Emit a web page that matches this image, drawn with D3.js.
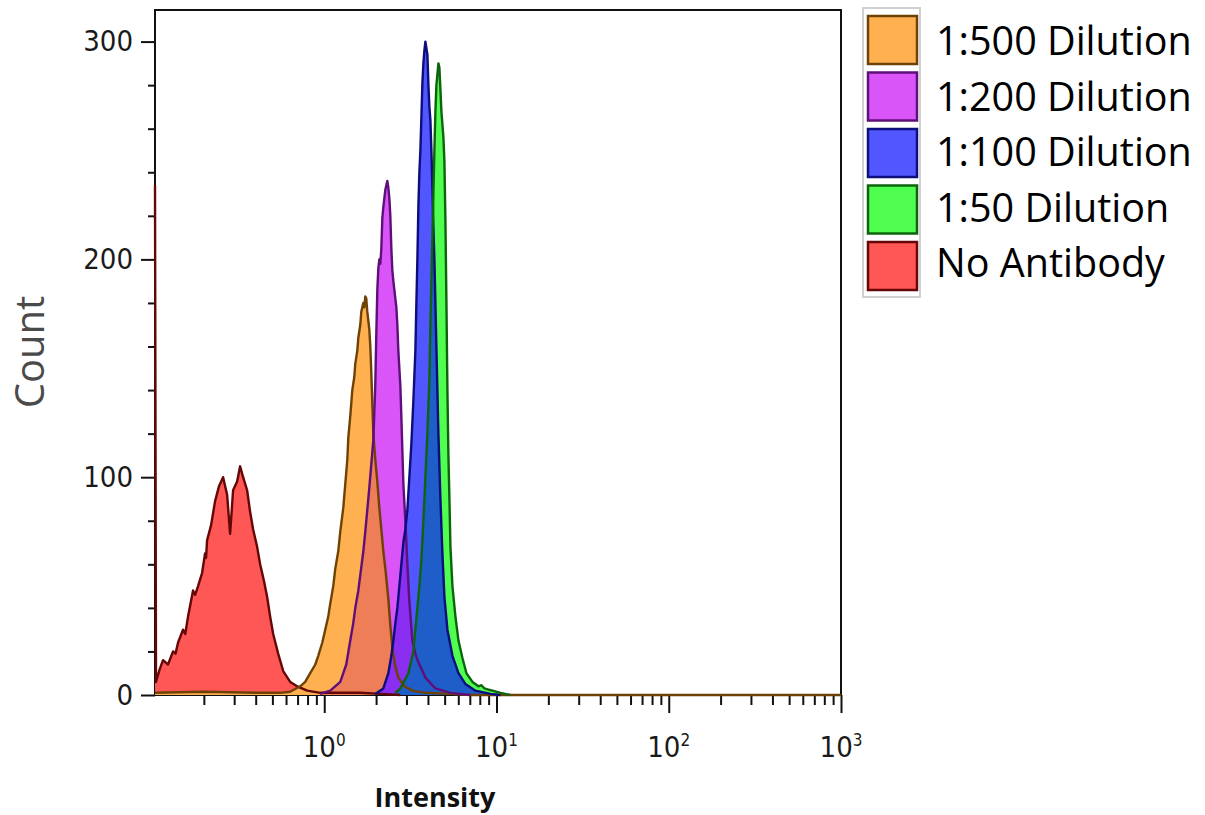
<!DOCTYPE html>
<html>
<head>
<meta charset="utf-8">
<script src="https://cdn.jsdelivr.net/npm/d3@7"></script>
<style>
  body { margin: 0; background: #fff; }
</style>
</head>
<body>
<svg id="chart" width="1205" height="815"></svg>
<script>
// legend order, top to bottom
const seriesNames = ["1:500 Dilution", "1:200 Dilution", "1:100 Dilution", "1:50 Dilution", "No Antibody"]
const xTickValues = [1, 10, 100, 1000]
const xTickExponents = ["0", "1", "2", "3"]
const yTickValues = [0, 100, 200, 300]

// [intensity, count]
const noAntibody = [
  [0.1041, 234], [0.1055, 6], [0.1110, 12], [0.1159, 16], [0.1239, 14], [0.1325, 20], [0.1370, 19],
  [0.1416, 24], [0.1514, 30], [0.1560, 28], [0.1619, 36], [0.1731, 48], [0.1780, 46],
  [0.1851, 50], [0.1953, 56], [0.2033, 65], [0.2060, 63],
  [0.2088, 71], [0.2203, 78], [0.2324, 89], [0.2452, 96], [0.2587, 100], [0.2729, 92],
  [0.2841, 74], [0.2957, 94], [0.312, 98], [0.3248, 105], [0.3381, 100], [0.3567, 94],
  [0.3714, 84], [0.3866, 76], [0.4078, 68], [0.4244, 60], [0.4478, 52], [0.4662, 45],
  [0.4853, 36], [0.5053, 28], [0.5403, 19], [0.5777, 11], [0.6343, 6], [0.6966, 4],
  [0.7962, 2], [0.948, 1], [1.239, 1], [1.619, 1], [2.117, 0.5], [2.766, 0]
]
const dil500 = [
  [0.1041, 1], [0.2, 1.5], [0.4, 1], [0.555, 1], [0.634, 1.5], [0.725, 4], [0.775, 6],
  [0.829, 10], [0.887, 14], [0.923, 18], [0.9736, 24], [1.0135, 30], [1.055, 36],
  [1.084, 42], [1.128, 50], [1.159, 58], [1.206, 66], [1.239, 75], [1.29, 86], [1.325, 97],
  [1.361, 108], [1.379, 118], [1.416, 128], [1.455, 140], [1.494, 146], [1.514, 152],
  [1.555, 158], [1.577, 164], [1.619, 170], [1.641, 176], [1.686, 180], [1.708, 178],
  [1.731, 183], [1.754, 182], [1.778, 176], [1.802, 172], [1.826, 168], [1.851, 160],
  [1.876, 148], [1.901, 134], [1.927, 120], [1.979, 108], [2.033, 98], [2.088, 86],
  [2.145, 76], [2.203, 66], [2.263, 58], [2.356, 44], [2.419, 32], [2.485, 22],
  [2.587, 13], [2.693, 8], [2.918, 4], [3.248, 2], [3.866, 1], [5.403, 0.5], [7.063, 0],
  [1000, 0]
]
const dil200 = [
  [0.948, 0.5], [1.084, 2], [1.239, 6], [1.342, 14], [1.416, 25], [1.474, 33], [1.514, 40],
  [1.577, 48], [1.619, 55], [1.686, 66], [1.731, 75], [1.778, 85], [1.826, 95], [1.876, 106],
  [1.927, 117], [1.953, 130], [1.979, 143], [2.006, 166], [2.033, 186], [2.061, 196],
  [2.088, 200], [2.117, 198], [2.145, 205], [2.174, 219], [2.203, 224], [2.263, 232],
  [2.293, 234], [2.324, 236], [2.356, 233], [2.388, 228], [2.419, 220], [2.452, 205],
  [2.485, 195], [2.519, 190], [2.587, 182], [2.622, 178], [2.657, 170], [2.693, 158],
  [2.766, 142], [2.803, 128], [2.88, 97], [2.957, 80], [3.038, 60], [3.12, 43], [3.248, 25],
  [3.381, 19], [3.521, 15], [3.866, 8], [4.419, 3], [5.403, 1], [7.063, 0]
]
const dil100 = [
  [1.979, 0.5], [2.203, 3], [2.356, 10], [2.452, 18], [2.519, 25], [2.587, 33], [2.657, 40],
  [2.729, 50], [2.803, 60], [2.88, 70], [2.957, 76], [3.038, 85], [3.12, 100], [3.203, 115],
  [3.291, 135], [3.381, 158], [3.427, 180], [3.473, 200], [3.521, 225], [3.567, 240],
  [3.615, 250], [3.664, 265], [3.714, 281], [3.764, 290], [3.815, 296], [3.866, 300],
  [3.918, 297], [3.971, 294], [4.025, 280], [4.078, 270], [4.133, 264], [4.189, 250],
  [4.245, 233], [4.302, 215], [4.36, 200], [4.478, 160], [4.6, 120], [4.725, 90],
  [4.853, 65], [4.985, 45], [5.189, 30], [5.549, 18], [6.014, 10], [6.604, 5], [7.548, 2],
  [9.229, 0.5], [10.55, 0]
]
const dil50 = [
  [2.587, 1], [2.766, 3], [3.079, 10], [3.291, 20], [3.427, 35], [3.567, 50], [3.664, 62],
  [3.764, 80], [3.866, 100], [3.971, 120], [4.078, 145], [4.133, 170], [4.189, 190],
  [4.245, 210], [4.302, 230], [4.36, 250], [4.419, 268], [4.478, 280], [4.539, 285],
  [4.6, 290], [4.662, 288], [4.725, 278], [4.788, 268], [4.853, 262], [4.918, 256],
  [4.985, 245], [5.052, 218], [5.121, 180], [5.189, 140], [5.259, 110], [5.33, 90],
  [5.403, 68], [5.549, 50], [5.777, 36], [6.014, 25], [6.343, 17], [6.692, 10], [7.253, 6],
  [7.858, 4], [8.182, 4.5], [8.517, 3], [8.985, 2.5], [9.478, 2], [10.55, 1], [12.06, 0]
]

const fills = {
  "1:500 Dilution": "#ffb152", "1:200 Dilution": "#d955f7", "1:100 Dilution": "#5156ff",
  "1:50 Dilution": "#50fe50", "No Antibody": "#ff5656"
}
const edges = {
  "1:500 Dilution": "#6e4205", "1:200 Dilution": "#5e0f79", "1:100 Dilution": "#0d0d7c",
  "1:50 Dilution": "#0d640d", "No Antibody": "#650707"
}
const dataByName = {
  "1:500 Dilution": dil500, "1:200 Dilution": dil200, "1:100 Dilution": dil100,
  "1:50 Dilution": dil50, "No Antibody": noAntibody
}
// where two histograms overlap the picture shows a mixed colour
const overlaps = [
  {a: "1:500 Dilution", b: "1:200 Dilution", color: "#ee7e58"},
  {a: "1:200 Dilution", b: "1:100 Dilution", color: "#8a2ef2"},
  {a: "1:100 Dilution", b: "1:50 Dilution", color: "#1f5ec9"}
]

const svg = d3.select("#chart")
const margin = {top: 10, right: 364, bottom: 120, left: 155}
const width = 1205, height = 815

const x = d3.scaleLog()
  .domain([0.1041, 1000])
  .range([margin.left, width - margin.right])
const y = d3.scaleLinear()
  .domain([0, 314.5])
  .range([height - margin.bottom, margin.top])

const numFont = "'Liberation Sans Narrow', 'DejaVu Sans Condensed', 'Liberation Sans', sans-serif"

// frame
svg.append("rect")
  .attr("x", x.range()[0]).attr("y", y.range()[1])
  .attr("width", x.range()[1] - x.range()[0])
  .attr("height", y.range()[0] - y.range()[1])
  .attr("fill", "none").attr("stroke", "#111").attr("stroke-width", 2)

// y axis: minor every 20, labelled every 100
const yMinor = d3.range(0, 301, 20).filter(v => v % 100 !== 0)
svg.append("g")
  .attr("transform", `translate(${margin.left},0)`)
  .call(d3.axisLeft(y).tickValues(yMinor).tickSize(7).tickFormat(""))
  .call(g => g.select(".domain").remove())
  .call(g => g.selectAll("line").attr("stroke", "#111").attr("stroke-width", 2))
svg.append("g")
  .attr("transform", `translate(${margin.left},0)`)
  .call(d3.axisLeft(y).tickValues(yTickValues).tickSize(14).tickPadding(8))
  .call(g => g.select(".domain").remove())
  .call(g => g.selectAll("line").attr("stroke", "#111").attr("stroke-width", 2))
  .call(g => g.selectAll("text")
    .style("font-family", numFont).style("font-size", "29px").attr("fill", "#1a1a1a"))

// x axis: log decades with minor 2..9
const xMinor = []
xTickValues.forEach(d => { for (let k = 2; k <= 9; k++) { const v = d * k / 10; if (v >= x.domain()[0]) xMinor.push(v) } })
const baseY = y(0)
svg.append("g")
  .attr("transform", `translate(0,${baseY})`)
  .call(d3.axisBottom(x).tickValues(xMinor).tickSize(10).tickFormat(""))
  .call(g => g.select(".domain").remove())
  .call(g => g.selectAll("line").attr("stroke", "#111").attr("stroke-width", 2))
svg.append("g")
  .attr("transform", `translate(0,${baseY})`)
  .call(d3.axisBottom(x).tickValues(xTickValues).tickSize(18).tickFormat(""))
  .call(g => g.select(".domain").remove())
  .call(g => g.selectAll("line").attr("stroke", "#111").attr("stroke-width", 2))

const xLabels = svg.append("g")
  .selectAll("text").data(xTickValues).enter().append("text")
  .attr("x", d => x(d)).attr("y", 757)
  .attr("text-anchor", "middle")
  .style("font-family", numFont).style("font-size", "29px").attr("fill", "#1a1a1a")
xLabels.append("tspan").text("10")
xLabels.append("tspan")
  .attr("dy", -11).style("font-size", "17px")
  .text((d, i) => xTickExponents[i])

// histograms
const area = d3.area()
  .x(d => x(d[0])).y0(y(0)).y1(d => y(d[1]))
const line = d3.line()
  .x(d => x(d[0])).y(d => y(d[1]))

const drawOrder = ["No Antibody", "1:500 Dilution", "1:200 Dilution", "1:100 Dilution", "1:50 Dilution"]

svg.append("g").selectAll("path")
  .data(drawOrder).enter().append("path")
  .attr("d", n => area(dataByName[n]))
  .attr("fill", n => fills[n])

// count of series at intensity v, linear in log-x
const valueAt = (series, v) => {
  if (v < series[0][0] || v > series[series.length - 1][0]) return 0
  const i = d3.bisector(d => d[0]).left(series, v)
  if (i === 0) return series[0][1]
  const p = series[i - 1], q = series[i]
  const t = (Math.log(v) - Math.log(p[0])) / (Math.log(q[0]) - Math.log(p[0]))
  return p[1] + t * (q[1] - p[1])
}
const overlapOf = (sa, sb) => {
  const lo = Math.max(sa[0][0], sb[0][0]), hi = Math.min(sa[sa.length - 1][0], sb[sb.length - 1][0])
  const xs = Array.from(new Set(sa.concat(sb).map(d => d[0]))).filter(v => v >= lo && v <= hi).sort((a, b) => a - b)
  return xs.map(v => [v, Math.min(valueAt(sa, v), valueAt(sb, v))])
}

svg.append("g").selectAll("path")
  .data(overlaps).enter().append("path")
  .attr("d", o => area(overlapOf(dataByName[o.a], dataByName[o.b])))
  .attr("fill", o => o.color)

svg.append("g").selectAll("path")
  .data(drawOrder).enter().append("path")
  .attr("d", n => line(dataByName[n]))
  .attr("fill", "none")
  .attr("stroke", n => edges[n])
  .attr("stroke-width", 2.4)
  .attr("stroke-linejoin", "round")

// axis titles
svg.append("text")
  .attr("transform", "translate(44,352) rotate(-90)")
  .attr("text-anchor", "middle")
  .style("font-family", "'Open Sans', sans-serif").style("font-size", "40px")
  .attr("fill", "#4a4a4a")
  .text("Count")
svg.append("text")
  .attr("x", 435).attr("y", 807)
  .attr("text-anchor", "middle")
  .style("font-family", "'Open Sans', sans-serif").style("font-size", "27px").style("font-weight", "bold")
  .attr("fill", "#111")
  .text("Intensity")

// legend
const legend = svg.append("g")
legend.append("rect")
  .attr("x", 863).attr("y", 8).attr("width", 57).attr("height", 289)
  .attr("fill", "none").attr("stroke", "#d0d0d0").attr("stroke-width", 2)
legend.selectAll("rect.sw")
  .data(seriesNames).enter().append("rect")
  .attr("class", "sw")
  .attr("x", 868).attr("y", (d, i) => 16 + i * 56.5)
  .attr("width", 49).attr("height", 48)
  .attr("fill", d => fills[d]).attr("stroke", d => edges[d]).attr("stroke-width", 2.5)
legend.selectAll("text")
  .data(seriesNames).enter().append("text")
  .attr("x", 936).attr("y", (d, i) => 55 + i * 55.5)
  .style("font-family", "'Open Sans', sans-serif").style("font-size", "39.5px")
  .attr("fill", "#000")
  .text(d => d)
</script>
</body>
</html>
